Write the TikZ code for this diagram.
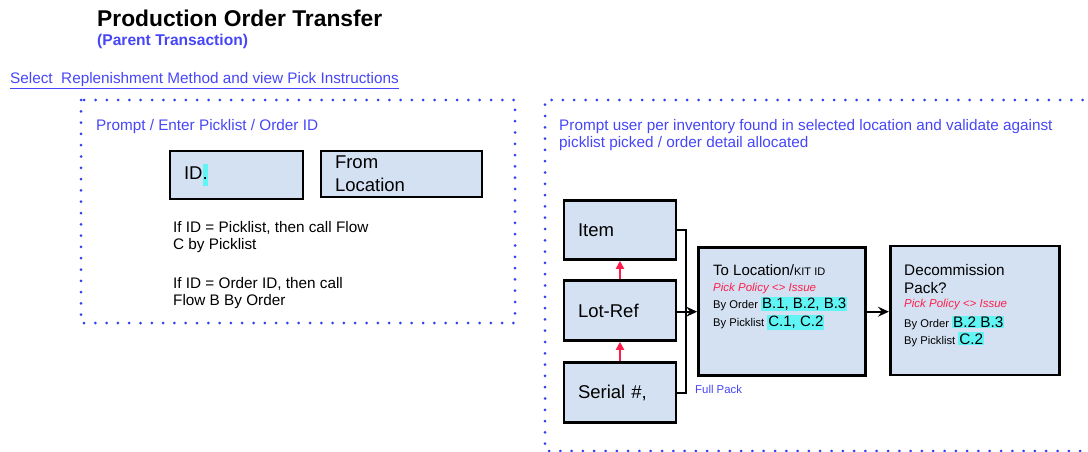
\documentclass[tikz,border=0pt]{standalone}
\usepackage{fontspec}
\setmainfont{Liberation Sans}
\usetikzlibrary{arrows.meta}
\definecolor{boxfill}{HTML}{D4E1F2}
\definecolor{noteblue}{HTML}{4646F8}
\definecolor{dotblue}{HTML}{3040F0}
\definecolor{policyred}{HTML}{FF1E4B}
\definecolor{hlcyan}{HTML}{60F4F4}
\newcommand{\hlt}[1]{{\setlength{\fboxsep}{1pt}\colorbox{hlcyan}{#1}}}

\begin{document}
\begin{tikzpicture}[x=1pt, y=-1pt,
    box/.style={rectangle, draw, line width=2.6pt, fill=boxfill, align=left, inner xsep=14pt, inner ysep=2pt, font=\fontsize{18.5}{23}\selectfont},
    zone/.style={draw=dotblue, line width=3pt, line cap=round, dash pattern=on 0pt off 11.3pt},
    arr/.style={-{Stealth[length=11pt, width=10pt, inset=4pt]}, line width=2pt},
    redarr/.style={-{Triangle[length=8pt, width=8pt]}, draw=policyred, line width=1.8pt},
    txt/.style={anchor=base west, inner sep=0pt, align=left},
    prompt/.style={txt, text=noteblue, font=\fontsize{15.3}{17.7}\selectfont}
]
\useasboundingbox (0,0) rectangle (1088,452);

% multi-line text nodes sit on the baseline of their last line
\node[txt, font=\fontsize{22.8}{26}\selectfont\bfseries] (title) at (97,27) {Production Order Transfer};
\node[txt, text=noteblue, font=\fontsize{15.6}{18}\selectfont\bfseries] (parent) at (97,45.6) {(Parent Transaction)};
\node[prompt] (select) at (10,83.5) {\underline{Select\ \ Replenishment Method and view Pick Instructions}};

% left zone
\draw[zone] (81,100) rectangle (515,323);
\node[prompt] (enter) at (96,130) {Prompt / Enter Picklist / Order ID};
\node[box, minimum width=133pt, minimum height=48pt, text width=105pt] (id) at (236.5,175) {ID{\setlength{\fboxsep}{0pt}\colorbox{hlcyan}{\strut.}}};
\node[box, minimum width=161pt, minimum height=46pt, text width=133pt] (fromloc) at (401.5,174) {From\\Location};
\node[txt, font=\fontsize{15.3}{17}\selectfont] (cond1) at (173,249) {If ID = Picklist, then call Flow\\C by Picklist};
\node[txt, font=\fontsize{15.3}{17}\selectfont] (cond2) at (173,305.7) {If ID = Order ID, then call\\Flow B By Order};

% right zone
\draw[zone] (1094,100) -- (545,100) -- (545,451) -- (1094,451);
\node[prompt] (inv) at (559,147.7) {Prompt user per inventory found in selected location and validate against\\picklist picked / order detail allocated};

\node[box, minimum width=112pt, minimum height=59pt, text width=84pt] (item) at (620,230) {Item};
\node[box, minimum width=112pt, minimum height=60pt, text width=84pt] (lotref) at (620,310.5) {Lot-Ref};
\node[box, minimum width=112pt, minimum height=60pt, text width=84pt] (serial) at (620,392.5) {Serial \#,};

\node[box, minimum width=167pt, minimum height=128pt] (toloc) at (782,311.7) {};
\node[txt, font=\fontsize{15}{17}\selectfont] (toloctext) at (713,326.7)
    {To Location/{\fontsize{11}{11}\selectfont KIT ID}\\[-1.7pt]
     {\color{policyred}\itshape\fontsize{11.5}{12}\selectfont Pick Policy <> Issue}\\[0.3pt]
     {\fontsize{11.2}{12}\selectfont By Order }\hlt{B.1, B.2, B.3}\\[1.4pt]
     {\fontsize{11.2}{12}\selectfont By Picklist }\hlt{C.1, C.2}};

\node[box, minimum width=169pt, minimum height=129pt] (decom) at (974.7,310.5) {};
\node[txt, font=\fontsize{15.3}{17}\selectfont] (decomtext) at (904,344)
    {Decommission\\[1.3pt]
     Pack?\\[-3pt]
     {\color{policyred}\itshape\fontsize{11.5}{12}\selectfont Pick Policy <> Issue}\\[3pt]
     {\fontsize{11.2}{12}\selectfont By Order }\hlt{B.2 B.3}\\[-0.3pt]
     {\fontsize{11.2}{12}\selectfont By Picklist }\hlt{C.2}};

\node[txt, text=noteblue, font=\fontsize{11.4}{13}\selectfont] (fullpack) at (695,393) {Full Pack};

% connectors
\coordinate (bus) at (686,311.7);
\draw[redarr] (lotref) -- (item);
\draw[redarr] (serial) -- (lotref);
\draw[line width=2pt] (item.east) -| (bus);
\draw[line width=2pt] (serial.east) -| (bus);
\draw[arr] (lotref.east |- bus) -- (bus -| toloc.west);
\draw[arr] (toloc.east) -- (toloc.east -| decom.west);
\end{tikzpicture}
\end{document}
